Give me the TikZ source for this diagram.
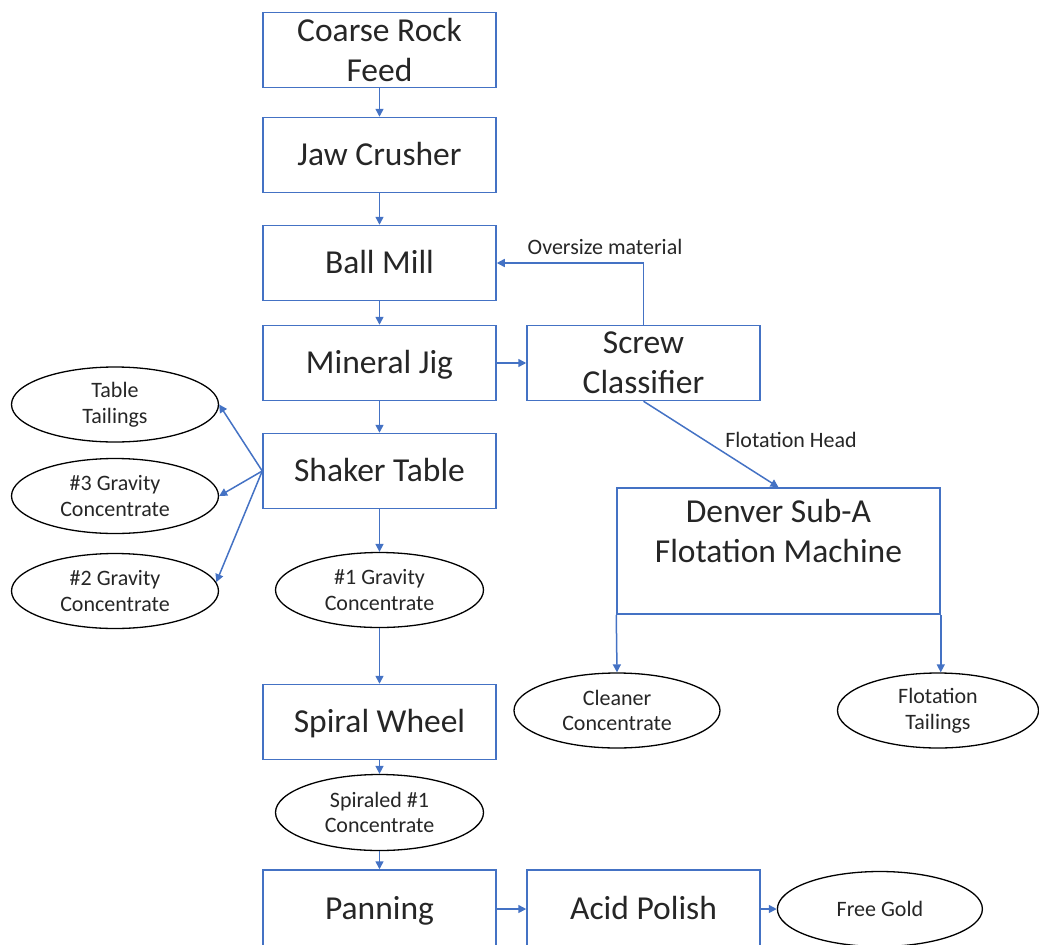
\documentclass[tikz,border=0pt]{standalone}
\usepackage{fontspec}
\setmainfont{Carlito}
\usetikzlibrary{positioning,arrows.meta}
\usetikzlibrary{shapes.geometric}
\definecolor{lnblue}{HTML}{4472C4}
\definecolor{txt}{HTML}{262626}
\tikzstyle{bx}=[draw=lnblue, line width=1.5pt, rectangle, minimum width=233pt, minimum height=75pt, inner sep=2pt, align=center, text=txt, font=\fontsize{33.5}{40}\selectfont]
\tikzstyle{one}=[text height=28pt, text depth=6.4pt]
\tikzstyle{ov}=[draw=black, line width=1.3pt, ellipse, minimum width=207pt, minimum height=75pt, inner sep=0pt, align=center, text=txt, font=\fontsize{22}{25.5}\selectfont]
\tikzstyle{lbl}=[text=txt, inner sep=0pt, font=\fontsize{22}{25.5}\selectfont]

\begin{document}
\begin{tikzpicture}[x=1pt, y=-1pt, >={Triangle[length=8pt,width=8pt]}, line width=1.5pt]
	\useasboundingbox (0,0) rectangle (1039,945);
	% main column
	\node[bx] (CR) at (379.5,50) {Coarse Rock\\Feed};
	\node[bx,one] (JC) [below = 28.5pt of CR] {Jaw Crusher};
	\node[bx,one] (BM) [below = 31.5pt of JC] {Ball Mill};
	\node[bx,one] (MJ) [below = 23.5pt of BM] {Mineral Jig};
	\node[bx] (SC) [right = 29.5pt of MJ] {Screw\\Classifier};
	\node[bx,one] (ST) [below = 31.5pt of MJ] {Shaker Table};
	\node[ov, minimum width=208pt] (G1) [below = 42.6pt of ST] {\#1 Gravity\\Concentrate};
	\node[bx,one] (SW) [below = 55.6pt of G1] {Spiral Wheel};
	\node[ov, minimum width=208pt, minimum height=76pt] (SP) [below = 13.6pt of SW] {Spiraled \#1\\Concentrate};
	\node[bx,one, minimum height=78pt] (PN) [below = 18.1pt of SP] {Panning};
	\node[bx,one, minimum height=78pt] (AP) [right = 29.5pt of PN] {Acid Polish};
	\node[ov, minimum width=205pt] (FG) [right = 16pt of AP] {Free Gold};
	% table products
	\node[ov] (TT) at (115,404.5) {Table\\Tailings};
	\node[ov] (G3) at (115,496) {\#3 Gravity\\Concentrate};
	\node[ov] (G2) at (115,591) {\#2 Gravity\\Concentrate};
	% flotation
	\node[bx, minimum width=323pt, minimum height=126pt] (DF) at (778.5,551) {Denver Sub-A\\Flotation Machine\\\mbox{}};
	\node[ov, minimum width=206pt] (CC) at (617,710.5) {Cleaner\\Concentrate};
	\node[ov, minimum width=201pt] (FT) at (938,710.5) {Flotation\\Tailings};
	\node[lbl] (os) at (605,247) {Oversize material};
	\node[lbl] (fh) at (791,440) {Flotation Head};

	\draw[lnblue] (CR) edge[->] (JC);
	\draw[lnblue] (JC) edge[->] (BM);
	\draw[lnblue] (BM) edge[->] (MJ);
	\draw[lnblue] (MJ) edge[->] (ST);
	\draw[lnblue] (MJ) edge[->] (SC);
	\draw[lnblue,->] (SC.north) |- (BM.east);
	\draw[lnblue] (SC.south) edge[->] (DF.north);
	\draw[lnblue] (ST.west) edge[->] (TT.east);
	\draw[lnblue] (ST.west) edge[->] (G3.east);
	\draw[lnblue] (ST.west) edge[->] (G2.5);
	\draw[lnblue] (ST) edge[->] (G1);
	\draw[lnblue] (G1) edge[->] (SW);
	\draw[lnblue] (SW) edge[->] (SP);
	\draw[lnblue] (SP) edge[->] (PN);
	\draw[lnblue] (PN) edge[->] (AP);
	\draw[lnblue] (AP) edge[->] (FG);
	\draw[lnblue,->] (DF.south west) -- (CC.north);
	\draw[lnblue,->] (DF.south east) -- (DF.south east |- FT.north);

\end{tikzpicture}
\end{document}
